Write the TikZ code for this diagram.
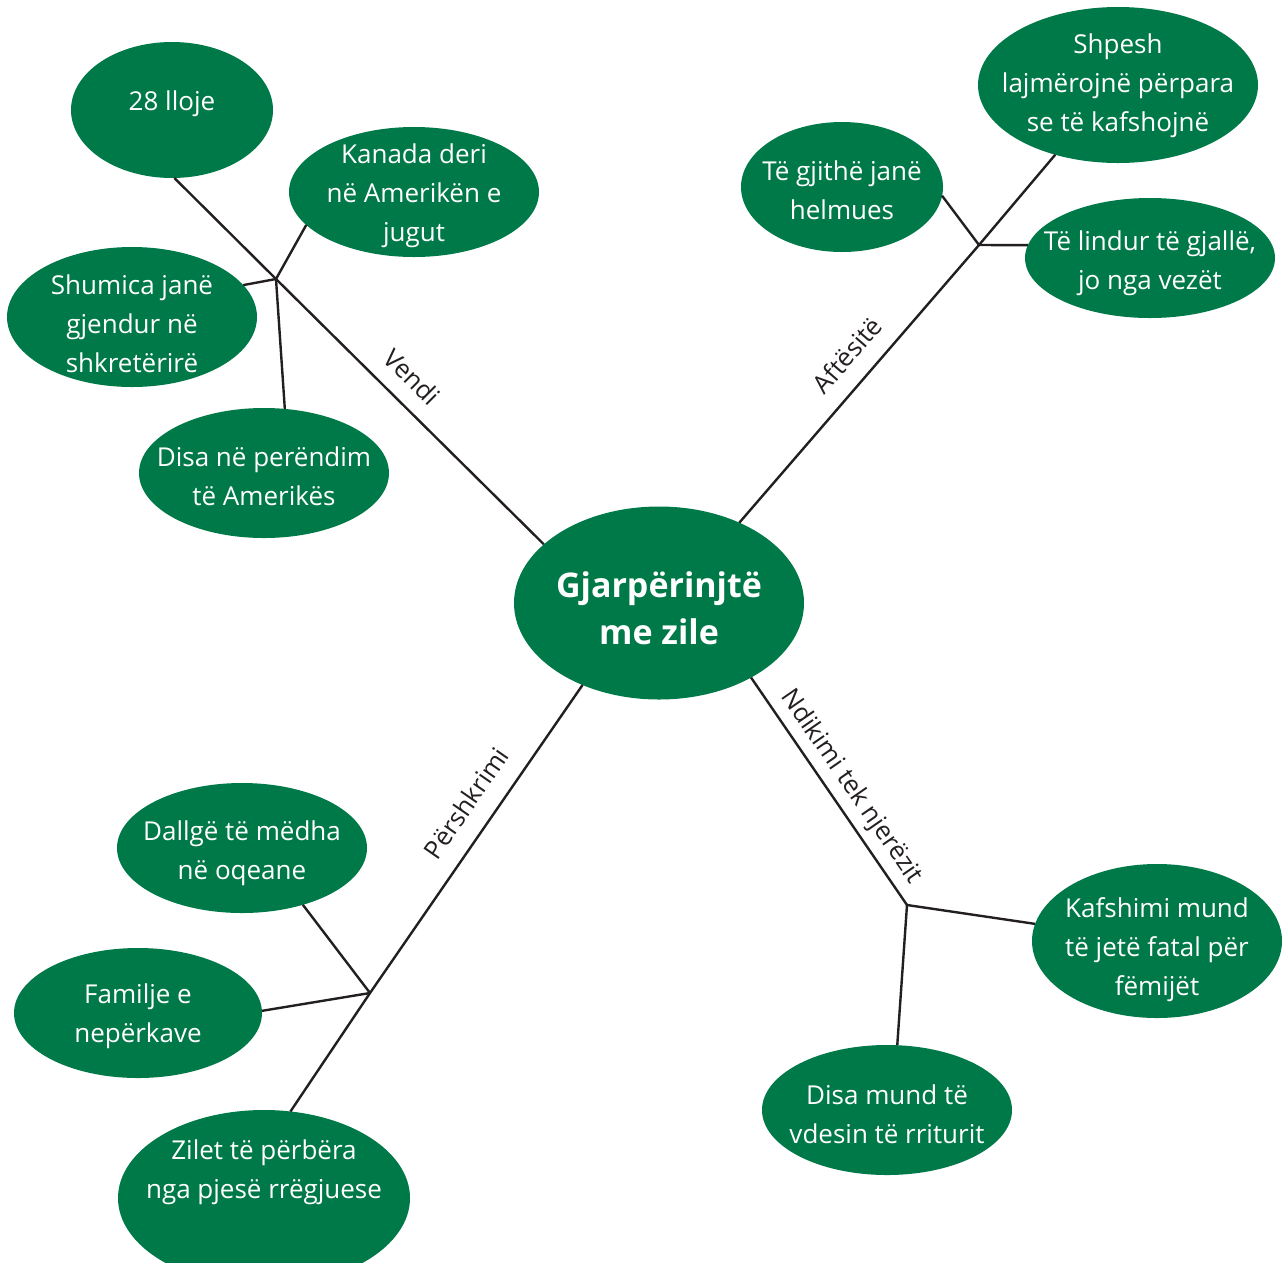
\documentclass[tikz,border=0pt]{standalone}
\usepackage{fontspec}
\setmainfont{Open Sans}
\usetikzlibrary{shapes.geometric}
\definecolor{leafgreen}{RGB}{0,121,73}
\definecolor{inkline}{RGB}{35,31,32}
\begin{document}
\begin{tikzpicture}[x=1pt,y=-1pt,
  blob/.style={ellipse, fill=leafgreen, inner sep=0pt, outer sep=0pt},
  blobtext/.style={text=white, align=center, inner sep=0pt, yshift=-3pt,
    font=\fontsize{26}{39}\selectfont},
  coretext/.style={text=white, align=center, inner sep=0pt,
    font=\bfseries\fontsize{34}{47}\selectfont},
  branch/.style={draw=inkline, line width=2.4pt},
  tag/.style={text=inkline, inner sep=0pt, font=\fontsize{25.5}{30}\selectfont}]

\useasboundingbox (0,0) rectangle (1285,1262);

% central topic
\node[blob, minimum width=290pt, minimum height=193pt] (core) at (659,603) {};
\node[coretext] (coret) at (659,608) {Gjarpërinjtë\\me zile};

% Vendi
\node[blob, minimum width=202pt, minimum height=136pt] (lloje) at (172,110) {};
\node[blobtext] (llojet) at (172,101) {28 lloje};
\node[blob, minimum width=250pt, minimum height=130pt] (kanada) at (414,192) {};
\node[blobtext] (kanadat) at (414,193) {Kanada deri\\në Amerikën e\\jugut};
\node[blob, minimum width=250pt, minimum height=140pt] (shumica) at (132,317) {};
\node[blobtext] (shumicat) at (132,321) {Shumica janë\\gjendur në\\shkretërirë};
\node[blob, minimum width=250pt, minimum height=130pt] (perendim) at (264,473) {};
\node[blobtext] (perendimt) at (264,473) {Disa në perëndim\\të Amerikës};

% Aftësitë
\node[blob, minimum width=202pt, minimum height=130pt] (helmues) at (842,187) {};
\node[blobtext] (helmuest) at (842,187) {Të gjithë janë\\helmues};
\node[blob, minimum width=280pt, minimum height=156pt] (shpesh) at (1118,85) {};
\node[blobtext] (shpesht) at (1118,83) {Shpesh\\lajmërojnë përpara\\se të kafshojnë};
\node[blob, minimum width=250pt, minimum height=120pt] (gjalle) at (1150,258) {};
\node[blobtext] (gjallet) at (1150,260) {Të lindur të gjallë,\\jo nga vezët};

% Përshkrimi
\node[blob, minimum width=250pt, minimum height=130pt] (dallge) at (242,848) {};
\node[blobtext] (dallget) at (242,850) {Dallgë të mëdha\\në oqeane};
\node[blob, minimum width=248pt, minimum height=130pt] (familje) at (138,1013) {};
\node[blobtext] (familjet) at (138,1013) {Familje e\\nepërkave};
\node[blob, minimum width=292pt, minimum height=176pt] (zilet) at (264,1198) {};
\node[blobtext] (zilett) at (264,1169) {Zilet të përbëra\\nga pjesë rrëgjuese};

% Ndikimi tek njerëzit
\node[blob, minimum width=250pt, minimum height=154pt] (kafshimi) at (1157,941) {};
\node[blobtext] (kafshimit) at (1157,947) {Kafshimi mund\\të jetë fatal për\\fëmijët};
\node[blob, minimum width=250pt, minimum height=130pt] (vdesin) at (887,1110) {};
\node[blobtext] (vdesint) at (887,1111) {Disa mund të\\vdesin të rriturit};

% junction points
\coordinate (hubV) at (276,279);
\coordinate (hubA) at (979,245);
\coordinate (hubP) at (370,993);
\coordinate (hubN) at (907,905);

% connectors
\draw[branch] (lloje.-88) -- (hubV) -- (core.153.4);
\draw[branch] (hubV) -- (kanada.197);
\draw[branch] (hubV) -- (shumica.16.7);
\draw[branch] (hubV) -- (perendim.72.3);

\draw[branch] (core.45.7) -- (hubA) -- (shpesh.228.7);
\draw[branch] (hubA) -- (helmues.-5.6);
\draw[branch] (hubA) -- (gjalle.174.5);

\draw[branch] (core.227.9) -- (hubP) -- (zilet.73.3);
\draw[branch] (hubP) -- (dallge.-43.5);
\draw[branch] (hubP) -- (familje.1.4);

\draw[branch] (core.-39.5) -- (hubN);
\draw[branch] (hubN) -- (kafshimi.172.3);
\draw[branch] (hubN) -- (vdesin.81.3);

% branch labels
\node[tag, rotate=-44.8] (vendi) at (412,377) {Vendi};
\node[tag, rotate=49] (aftesite) at (847,355) {Aftësitë};
\node[tag, rotate=55.3] (pershkrimi) at (466,803) {Përshkrimi};
\node[tag, rotate=-55.3] (ndikimi) at (851,787) {Ndikimi tek njerëzit};
\end{tikzpicture}
\end{document}
